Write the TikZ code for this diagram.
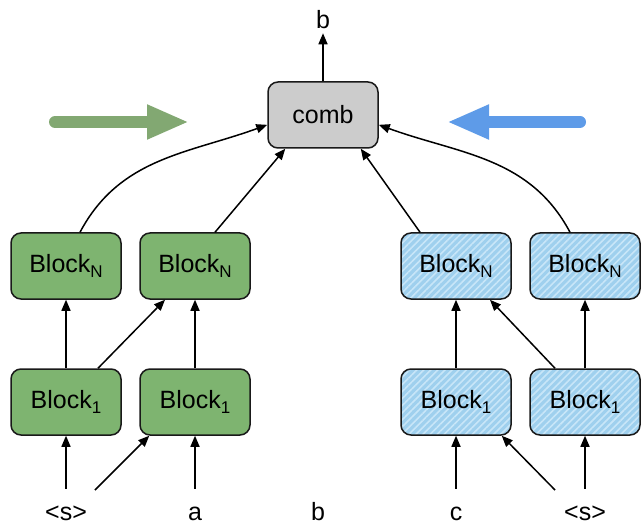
\documentclass[tikz,border=0pt]{standalone}
\usepackage{fontspec}
\setmainfont{Liberation Sans}
\usetikzlibrary{arrows.meta,patterns.meta}

\definecolor{blockgreen}{HTML}{7EB470}
\definecolor{blockblue}{HTML}{9FD0EE}
\definecolor{stripeblue}{HTML}{C8E6F8}
\definecolor{arrgreen}{HTML}{82A872}
\definecolor{arrblue}{HTML}{5E9BE8}
\definecolor{combgray}{HTML}{CCCCCC}

\newcommand{\blocksub}[1]{Block\raisebox{-5pt}{\fontsize{17}{17}\selectfont #1}}

\begin{document}
\begin{tikzpicture}[x=1pt,y=1pt,font=\fontsize{25}{29}\selectfont,line width=1.5pt,
  >={Triangle[length=11pt,width=9pt]},
  blk/.style={draw=black!90,rounded corners=10pt,minimum width=110pt,minimum height=66pt,inner sep=0pt},
  gblk/.style={blk,fill=blockgreen},
  bblk/.style={blk,preaction={fill=blockblue},
    pattern={Lines[angle=45,distance=5pt,line width=1.6pt]},pattern color=stripeblue},
  inlab/.style={anchor=base,text height=17pt,text depth=5pt},
  bigarr/.style={line width=12pt,line cap=round,-{Triangle[length=42pt,width=32pt]}}]
  \useasboundingbox (0,0) rectangle (644,525);

  \node[blk,fill=combgray] (comb) at (323,410) {comb};
  \node (bout) at (323,505) {b};
  \draw[->] (comb) -- (bout);

  % forward direction
  \node[gblk] (gN1) at (66,259) {\blocksub{N}};
  \node[gblk] (gN2) at (195,259) {\blocksub{N}};
  \node[gblk] (g11) at (66,123) {\blocksub{1}};
  \node[gblk] (g12) at (195,123) {\blocksub{1}};

  % backward direction
  \node[bblk] (bN1) at (456,259) {\blocksub{N}};
  \node[bblk] (bN2) at (585,259) {\blocksub{N}};
  \node[bblk] (b11) at (456,123) {\blocksub{1}};
  \node[bblk] (b12) at (585,123) {\blocksub{1}};

  \foreach \x/\nm/\lab in {66/s1/{<s>},195/ina/a,318/inb/b,456/inc/c,585/s2/{<s>}}
    \node[inlab] (\nm) at (\x,5) {\lab};

  \draw[->,shorten <=10pt] (s1) -- (g11);
  \draw[->,shorten <=10pt] (ina) -- (g12);
  \draw[->,shorten <=10pt] (inc) -- (b11);
  \draw[->,shorten <=10pt] (s2) -- (b12);
  \coordinate (d1) at (95,35);
  \coordinate (d2) at (555,35);
  \draw[->] (d1) -- ([xshift=10pt]g12.south west);
  \draw[->] (d2) -- ([xshift=-10pt]b11.south east);

  \draw[->] (g11) -- (gN1);
  \draw[->] (g12) -- (gN2);
  \draw[->] (b11) -- (bN1);
  \draw[->] (b12) -- (bN2);
  \draw[->] ([xshift=32pt]g11.north) -- ([xshift=-30pt]gN2.south);
  \draw[->] ([xshift=-30pt]b12.north) -- ([xshift=34pt]bN1.south);

  \draw[->] ([xshift=14pt]gN1.north) to[out=62,in=200] (comb.190);
  \draw[->] ([xshift=20pt]gN2.north) -- ([xshift=18pt]comb.south west);
  \draw[->] ([xshift=-36pt]bN1.north) -- ([xshift=-18pt]comb.south east);
  \draw[->] ([xshift=-15pt]bN2.north) to[out=118,in=-20] (comb.-10);

  \draw[bigarr,arrgreen] (55,403) -- (189,403);
  \draw[bigarr,arrblue] (580,403) -- (447,403);
\end{tikzpicture}
\end{document}
